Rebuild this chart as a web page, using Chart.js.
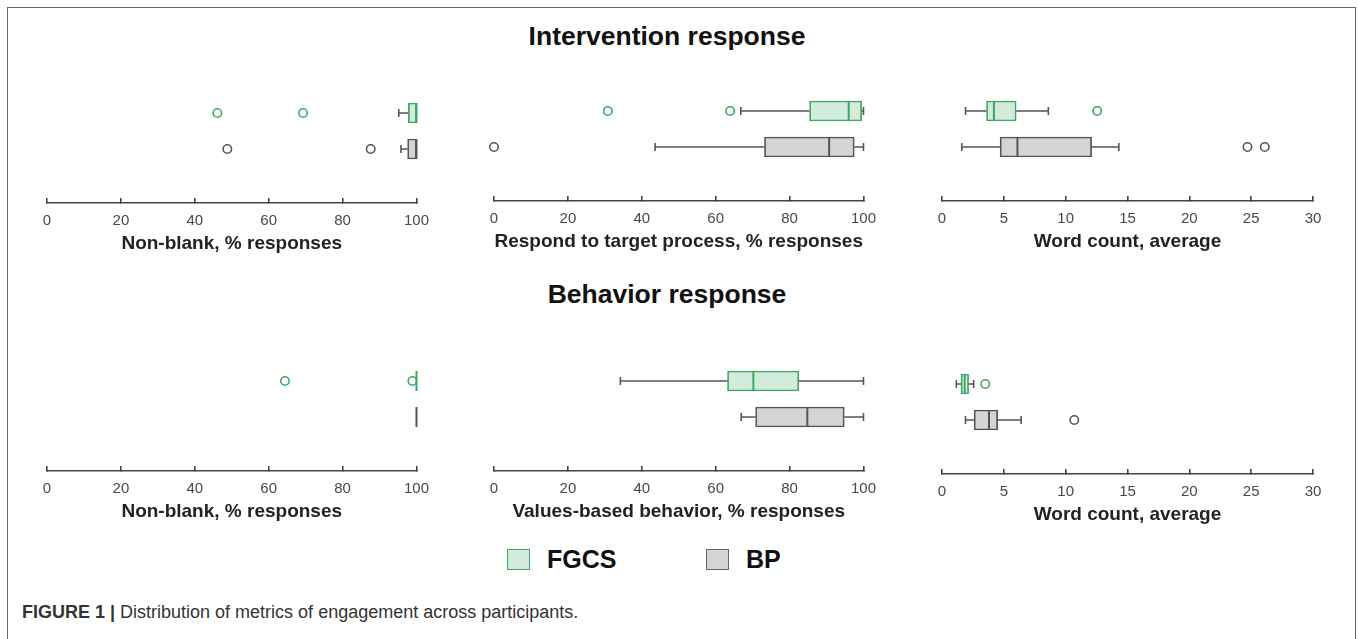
<!DOCTYPE html>
<html>
<head>
<meta charset="utf-8">
<script src="https://cdn.jsdelivr.net/npm/chart.js@4.4.1/dist/chart.umd.min.js"></script>
<style>
  body { margin: 0; width: 1358px; height: 639px; overflow: hidden; background: #fff;
         position: relative; font-family: "Liberation Sans", Arial, sans-serif; }
  .frame { position: absolute; left: 7px; top: 7px; width: 1347px; height: 700px;
           border: 1.5px solid #666; border-bottom: none; }
  .heading { position: absolute; left: 0; width: 1334px; text-align: center;
             font-weight: bold; font-size: 26.5px; color: #111; }
  canvas { position: absolute; }
  .legend { position: absolute; top: 545px; font-weight: bold; font-size: 25px; color: #111; }
  .legend span.sw { display: inline-block; width: 21px; height: 19px; vertical-align: -2px;
                    margin-right: 17px; border: 1.5px solid; }
  .caption { position: absolute; left: 22px; top: 602px; font-size: 18px; color: #333;
             font-family: "Liberation Sans Narrow", "Arial Narrow", "Liberation Sans", sans-serif; }
</style>
</head>
<body>
<div class="frame"></div>
<div class="heading" style="top:21px">Intervention response</div>
<div class="heading" style="top:279px">Behavior response</div>
<div class="legend" style="left:507px"><span class="sw" style="background:#d3ebdc;border-color:#3ea762"></span>FGCS</div>
<div class="legend" style="left:706px"><span class="sw" style="background:#d4d4d4;border-color:#666"></span>BP</div>
<div class="caption"><b>FIGURE 1 |</b> Distribution of metrics of engagement across participants.</div>

<script>
const groups = ["FGCS", "BP"];
const axisTitles = [
  "Non-blank, % responses",
  "Respond to target process, % responses",
  "Word count, average",
  "Non-blank, % responses",
  "Values-based behavior, % responses",
  "Word count, average"
];
const axisMax = [100, 100, 30, 100, 100, 30];
const tickStep = [20, 20, 5, 20, 20, 5];

// [min, q1, median, q3, max]
const fgcsBoxes = [
  [95.2, 97.8, 100, 100, 100],
  [66.8, 85.4, 96.0, 99.5, 100],
  [1.9, 3.6, 4.2, 6.0, 8.6],
  [100, 100, 100, 100, 100],
  [34.2, 63.2, 70.2, 82.5, 100],
  [1.16, 1.54, 1.83, 2.15, 2.56]
];
const bpBoxes = [
  [95.8, 97.6, 100, 100, 100],
  [43.6, 73.2, 90.7, 97.5, 100],
  [1.6, 4.7, 6.1, 12.1, 14.3],
  [100, 100, 100, 100, 100],
  [66.9, 70.8, 84.8, 94.8, 100],
  [1.9, 2.6, 3.8, 4.5, 6.4]
];
const fgcsOutliers = [[46.1, 69.3], [30.8, 63.9], [12.55], [64.4, 98.9], [], [3.5]];
const bpOutliers = [[48.8, 87.6], [0], [24.7, 26.1], [], [], [10.7]];

// canvas left / top for each panel
const panelPos = [[22, 85], [469, 83], [917, 83], [22, 353], [469, 353], [917, 356]];

const green = "#3ea762";
const greenFill = "#d3ebdc";
const grayLine = "#555";
const grayFill = "#d4d4d4";
const axisColor = "#444";

const boxPlugin = {
  id: "whiskers",
  afterDatasetsDraw(chart, args, opts) {
    const { ctx } = chart;
    const xs = chart.scales.x, ys = chart.scales.y;
    opts.stats.forEach((s, i) => {
      const y = ys.getPixelForValue(i);
      const px = s.map((v) => xs.getPixelForValue(v));
      ctx.save();
      ctx.lineWidth = 1.6;
      ctx.strokeStyle = grayLine;
      ctx.beginPath();
      if (s[0] < s[1]) {
        ctx.moveTo(px[0], y); ctx.lineTo(px[1], y);
        ctx.moveTo(px[0], y - 4); ctx.lineTo(px[0], y + 4);
      }
      if (s[4] > s[3]) {
        ctx.moveTo(px[3], y); ctx.lineTo(px[4], y);
        ctx.moveTo(px[4], y - 4); ctx.lineTo(px[4], y + 4);
      }
      ctx.stroke();
      ctx.strokeStyle = opts.medianColors[i];
      ctx.lineWidth = 2;
      ctx.beginPath();
      ctx.moveTo(px[2], y - 10); ctx.lineTo(px[2], y + 10);
      ctx.stroke();
      ctx.restore();
    });
  }
};

axisTitles.forEach((title, p) => {
  const cv = document.createElement("canvas");
  cv.width = 421; cv.height = 182;
  cv.style.left = panelPos[p][0] + "px";
  cv.style.top = panelPos[p][1] + "px";
  document.body.appendChild(cv);

  const f = fgcsBoxes[p], b = bpBoxes[p];
  new Chart(cv, {
    data: {
      labels: [...groups, ""],
      datasets: [
        { type: "bar", data: [[f[1], f[3]], null, null], backgroundColor: greenFill,
          borderColor: green, borderWidth: 1.7, borderSkipped: false, barThickness: 20,
          grouped: false, clip: false },
        { type: "bar", data: [null, [b[1], b[3]], null], backgroundColor: grayFill,
          borderColor: grayLine, borderWidth: 1.7, borderSkipped: false, barThickness: 20,
          grouped: false, clip: false },
        { type: "scatter", data: fgcsOutliers[p].map((v) => ({ x: v, y: "FGCS" })),
          pointRadius: 4.2, borderWidth: 1.6, borderColor: green,
          backgroundColor: "rgba(0,0,0,0)", clip: false },
        { type: "scatter", data: bpOutliers[p].map((v) => ({ x: v, y: "BP" })),
          pointRadius: 4.2, borderWidth: 1.6, borderColor: grayLine,
          backgroundColor: "rgba(0,0,0,0)", clip: false }
      ]
    },
    options: {
      indexAxis: "y",
      responsive: false,
      animation: false,
      events: [],
      layout: { padding: { left: 25, right: 25, top: 10, bottom: 12 } },
      plugins: {
        legend: { display: false },
        tooltip: { enabled: false },
        whiskers: { stats: [f, b], medianColors: [green, grayLine] }
      },
      scales: {
        y: { type: "category", display: false, offset: true },
        x: {
          type: "linear", min: 0, max: axisMax[p],
          afterFit(scale) { scale.height = 52; },
          border: { display: true, color: axisColor, width: 1.6 },
          grid: { drawOnChartArea: false, drawTicks: true, tickLength: -5,
                  color: axisColor, lineWidth: 1.6 },
          ticks: { stepSize: tickStep[p], padding: 14, color: "#484848",
                   font: { size: 15, family: "'Liberation Sans', Arial, sans-serif" } },
          title: { display: true, text: title, color: "#222", padding: 0,
                   font: { size: 19, weight: "bold", family: "'Liberation Sans', Arial, sans-serif" } }
        }
      }
    },
    plugins: [boxPlugin]
  });
});
</script>
</body>
</html>
